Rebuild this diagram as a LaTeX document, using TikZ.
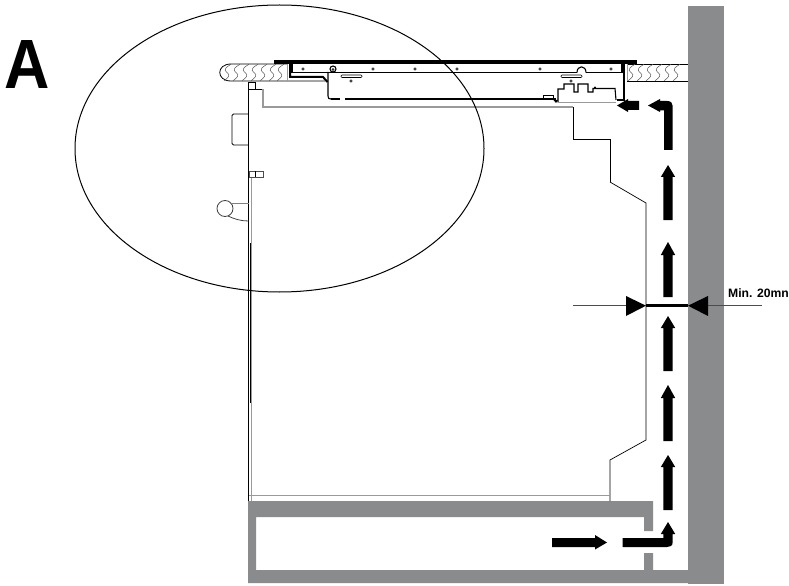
\documentclass[tikz,border=0pt]{standalone}
\usepackage{fontspec}
\setmainfont{Liberation Sans}
\definecolor{wallgray}{HTML}{8A8B8D}
\definecolor{ovengray}{HTML}{9A9A9A}
\newcommand{\airup}[3]{\fill[black] (663.3,#3) -- (663.3,#2) -- (660.8,#2) -- (668,#1) -- (675.2,#2) -- (672.7,#2) -- (672.7,#3) -- cycle;}
\begin{document}
\begin{tikzpicture}[x=1bp,y=-1bp,
  thinline/.style={black,line width=0.8bp},
  hobline/.style={black,line width=1.1bp},
  hobthick/.style={black,line width=2bp},
  greyline/.style={ovengray,line width=1.2bp},
  grainline/.style={black!65,line width=0.5bp},
  hobdot/.style={draw=black,line width=0.5bp,fill=white,circle,inner sep=0pt,minimum size=2.6bp}]
\useasboundingbox (0,0) rectangle (789,586);
% wall and plinth
\fill[wallgray] (688,6) rectangle (724,584);
\fill[wallgray,even odd rule] (248,501) -- (653,501) -- (653,531) -- (644,531) -- (644,517) -- (256,517) -- (256,570) -- (644,570) -- (644,553) -- (653,553) -- (653,570) -- (688,570) -- (688,583) -- (248,583) -- cycle;
% worktop
\draw[black,line width=0.8bp] (287,64) -- (231,64) .. controls (216,64) and (216,81) .. (231,81) -- (325,81);
\draw[black,line width=0.8bp] (688,64) -- (627,64);
\draw[black,line width=0.8bp] (688,81) -- (627,81);
\draw[ovengray,line width=0.7bp] (287,64) -- (287,81);
\draw[ovengray,line width=0.7bp] (627,64) -- (627,81);
\foreach \x in {224,233,242,251,260,269,277}
  \draw[grainline] (\x+7,64.3) .. controls (\x+2,67) and (\x-1,70) .. (\x+3,72.5) .. controls (\x+7,75) and (\x+4,78) .. (\x,80.7);
\foreach \x in {628,637,646,655,664,673}
  \draw[grainline] (\x+7,64.3) .. controls (\x+2,67) and (\x-1,70) .. (\x+3,72.5) .. controls (\x+7,75) and (\x+4,78) .. (\x,80.7);
% hob
\fill[black] (274,60) rectangle (637,64);
\draw[hobline] (292,64) -- (292,72.5) -- (622,72.5) -- (622,64);
\draw[hobthick] (290,64) -- (290,77) -- (323,77) -- (327.5,82);
\draw[hobline] (328,72) -- (328,96) .. controls (328,98.5) and (329,99) .. (331,99);
\draw[hobthick] (331,99) -- (556,99);
\draw[hobthick] (624,64) -- (624,100) -- (617,100);
\foreach \x in {303,373,415,457,540,611} \node[hobdot] (d\x) at (\x,69) {};
\node[hobdot] (dl) at (351,81) {};
\node[hobdot] (dr) at (571,81) {};
\draw[hobline,fill=white] (333,69) circle (3);
\draw[black,line width=0.6bp] (333,69.5) circle (1);
\draw[black,line width=0.6bp,rounded corners=1bp,fill=white] (341,75) rectangle (362,77.5);
\draw[black,line width=0.6bp,rounded corners=1bp,fill=white] (561,75) rectangle (582,77.5);
\fill[white] (577,71) rectangle (586,74);
\draw[hobline] (577,72.5) .. controls (577,65) and (586,65) .. (586,72.5);
\fill[white] (340,97.8) rectangle (345,100);
% electronics box
\draw[black,line width=1.1bp,fill=white] (558,102.5) -- (558,89) -- (564,89) -- (564,84) -- (574,84) -- (574,92) -- (578,92) -- (578,84) -- (588,84) -- (588,92) -- (593,92) -- (593,88.5) -- (615,88.5) -- (616,100);
\draw[ovengray,line width=0.8bp] (558,102.5) -- (616,102.5);
\fill[black] (595,87.5) circle (1.2);
\draw[black,line width=1bp,fill=white] (543,98) -- (543,95.3) -- (553,95.3) -- (553,98);
\fill[black] (553,99.5) -- (558,100) -- (556,103) -- cycle;
% oven
\draw[thinline] (248.5,82) -- (248.5,501);
\draw[thinline] (248.5,82) -- (255,82) -- (255,89);
\draw[thinline] (248.5,89) -- (263,89);
\draw[greyline] (263,89) -- (263,107) -- (573,107);
\draw[black,line width=0.7bp] (573,107) -- (573,139);
\draw[black,line width=0.7bp] (573,139) -- (610,139) -- (610,182);
\draw[black,line width=0.7bp] (610,182) -- (646,203) -- (646,440) -- (610,460) -- (610,501);
\draw[greyline,line width=1bp] (251,177) -- (251,501);
\draw[black,line width=0.9bp] (250,243) -- (250,403);
\draw[greyline,line width=1bp] (249,495) -- (610,495);
% door handle and knob
\draw[thinline,rounded corners=1.5bp] (248.5,114) -- (232,114) -- (232,145) -- (248.5,145);
\draw[black!70,line width=0.8bp] (263,171) rectangle (249,177);
\draw[black,line width=0.8bp] (255,171) -- (255,177);
\draw[black!75,line width=0.8bp] (225,208.5) circle (8);
\draw[black!50,line width=0.8bp] (230,203) -- (248.5,203);
\draw[black!75,line width=0.8bp] (228,216) .. controls (234,219) and (241,221) .. (248.5,221);
% air flow
\fill[black] (552,538) -- (595,538) -- (595,535) -- (607,542.5) -- (595,549.5) -- (595,547) -- (552,547) -- cycle;
\fill[black] (622.5,538) -- (663.3,538) -- (663.3,534) -- (660.8,534) -- (668,522) -- (675.2,534) -- (672.7,534) -- (672.7,542) .. controls (672.7,546) and (670,547) .. (667,547) -- (622.5,547) -- cycle;
\airup{455}{467}{510}
\airup{385}{398}{441}
\airup{316}{328}{371}
\airup{242}{255}{297}
\airup{165}{177}{220}
\fill[black] (664,150) -- (664,110.5) -- (660,110.5) -- (660,112) -- (648,105.5) -- (660,99) -- (660,101) -- (667,101) .. controls (671,101) and (672.7,103) .. (672.7,106) -- (672.7,150) -- cycle;
\fill[black] (639,101) -- (628,101) -- (628,99) -- (617,105.5) -- (628,112) -- (628,110) -- (639,110) -- cycle;
% clearance dimension
\coordinate (dimL) at (646,305.7);
\coordinate (dimR) at (688,305.7);
\coordinate (dimLfree) at (573,305.2);
\coordinate (dimRfree) at (762,305.2);
\draw[black,line width=2.8bp] (dimL) -- (dimR);
\draw[black!70,line width=0.7bp] (dimLfree) -- (626,305.2);
\draw[black!70,line width=0.7bp] (708,305.2) -- (dimRfree);
\fill[black] (dimL) -- (626,296) -- (626,316) -- cycle;
\fill[black] (dimR) -- (708,296) -- (708,316) -- cycle;
% ellipse
\draw[black,line width=1bp] (279.5,148.5) ellipse (204.5 and 143.5);
% labels
\node[anchor=base west,inner sep=0pt,font=\bfseries\fontsize{70}{70}\selectfont,xscale=0.9] (lblA) at (4.5,89) {A};
\node[anchor=base west,inner sep=0pt,font=\bfseries\fontsize{12.2}{12.2}\selectfont] (lblMin) at (728,297) {Min. 20mn};
\end{tikzpicture}
\end{document}
